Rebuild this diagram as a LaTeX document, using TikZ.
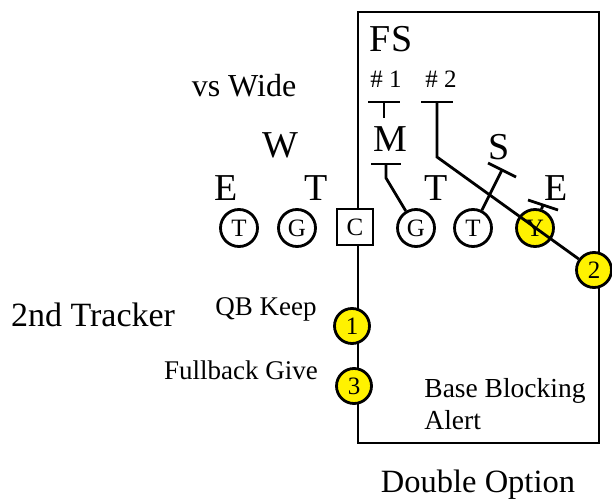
\documentclass[tikz,border=0pt]{standalone}
\usepackage{fontspec}
\setmainfont{Liberation Serif}
\tikzset{
  man/.style={circle, draw, fill=white, line width=2.8pt, minimum size=37pt, inner sep=0pt, font=\fontsize{25}{25}\selectfont},
  back/.style={man, fill=yellow, minimum size=35pt},
  ctr/.style={man, rectangle, minimum size=36pt},
  lbl/.style={anchor=base, inner sep=0pt, font=\fontsize{#1}{#1}\selectfont},
}
\begin{document}
\begin{tikzpicture}[x=1pt, y=-1pt, line width=2.8pt]
	\useasboundingbox (0,0) rectangle (612,500);
	% play side box
	\draw (358,12) rectangle (599,443);
	
	% offensive line
	\node[man] (lt) at (239,228) {T};
	\node[man] (lg) at (297,228) {G};
	\node[ctr] (c) at (355,227) {C};
	\node[man] (rg) at (416,228) {G};
	\node[man] (rt) at (473,228) {T};
	\node[man, fill=yellow] (y) at (535,228) {Y};
	
	% reads
	\node[back] (one) at (352,326) {1};
	\node[back] (three) at (354,386) {3};
	\node[back] (two) at (594,270) {2};
	
	% defenders
	\coordinate (m1) at (384,102);
	\draw ([xshift=-16pt]m1) -- ([xshift=16pt]m1);
	\draw (m1) -- ++(0,16);
	
	\coordinate (m2) at (437,102);
	\draw ([xshift=-16pt]m2) -- ([xshift=16pt]m2);
	\draw (m2) -- ++(0,55) -- (two);
	
	\coordinate (mm) at (386,164);
	\draw ([xshift=-15pt]mm) -- ([xshift=15pt]mm);
	\draw (mm) -- ++(0,14) -- (rg);
	
	\coordinate (ss) at (502,170);
	\draw (ss) ++(-14,-7) -- ++(28,14);
	\draw (ss) -- (rt);
	
	\coordinate (ee) at (543,205);
	\draw (ee) ++(-15,-5) -- ++(30,10);
	\draw (ee) -- (y);
	
	% labels
	\node[lbl=38] (fs) at (391,52) {FS};
	\node[lbl=25] (n1) at (386,88) {\# 1};
	\node[lbl=25] (n2) at (441,88) {\# 2};
	\node[lbl=38] (mlb) at (390,151) {M};
	\node[lbl=38] (slb) at (499,159) {S};
	\node[lbl=38] (rtk) at (436,200) {T};
	\node[lbl=38] (rde) at (556,200) {E};
	\node[lbl=38] (wlb) at (280,157) {W};
	\node[lbl=38] (lde) at (226,200) {E};
	\node[lbl=38] (ltk) at (316,200) {T};
	\node[lbl=32] (vs) at (244,97) {vs Wide};
	\node[lbl=34] (trk) at (93,326) {2nd Tracker};
	\node[lbl=27] (qb) at (266,315) {QB Keep};
	\node[lbl=27] (fb) at (241,379) {Fullback Give};
	\node[lbl=27.5, anchor=base west] (bb) at (423,397) {Base Blocking};
	\node[lbl=27.5, anchor=base west] (al) at (423,429) {Alert};
	\node[lbl=32.5] (dbl) at (478,492) {Double Option};
\end{tikzpicture}
\end{document}
